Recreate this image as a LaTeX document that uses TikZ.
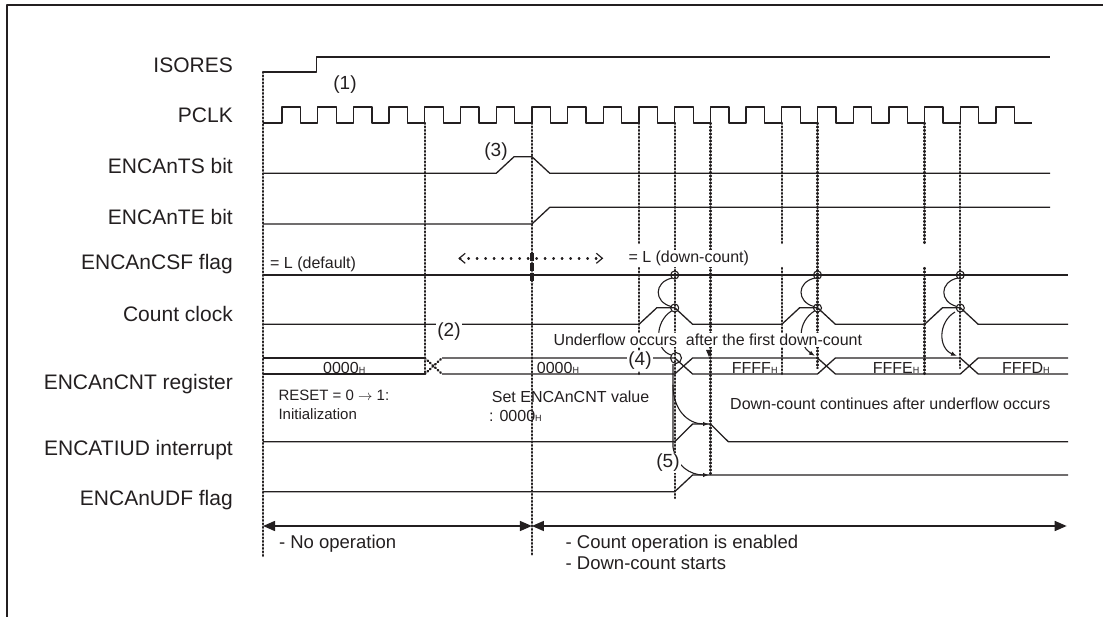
\documentclass[tikz,border=0pt]{standalone}
\usepackage{fontspec}
\setmainfont{Liberation Sans}
\usetikzlibrary{arrows.meta}
\definecolor{ink}{RGB}{35,31,32}
\newcommand{\subH}{{\fontsize{9}{9}\selectfont H}}
\begin{document}
\begin{tikzpicture}[x=1pt,y=-1pt,line join=round,
  sig/.style={draw=ink,line width=1.3pt},
  thin/.style={draw=ink,line width=1.1pt},
  vdot/.style={draw=ink,line width=2.3pt,dash pattern=on 0.9pt off 2.6pt,line cap=round},
  sdot/.style={draw=ink,line width=2.5pt,dash pattern=on 0.5pt off 8pt,line cap=round},
  lbl/.style={anchor=base east,inner sep=0pt,font=\fontsize{21}{25}\selectfont,text=ink},
  note/.style={anchor=base west,inner sep=0pt,font=\fontsize{16}{19}\selectfont,text=ink},
  smallnote/.style={anchor=base west,inner sep=0pt,font=\fontsize{15}{18}\selectfont,text=ink},
  bignote/.style={anchor=base west,inner sep=0pt,font=\fontsize{18.5}{22}\selectfont,text=ink},
  num/.style={inner sep=1pt,font=\fontsize{19}{22}\selectfont,text=ink},
  tip/.style={-{Latex[length=6pt,width=4.5pt]}},
  ring/.style={draw=ink,line width=1.1pt}]
\useasboundingbox (0,0) rectangle (1103,617);
% frame
\draw[ink,line width=2.2pt] (1103,5) -- (7,5) -- (7,617);
% labels
\node[lbl] (lisores) at (233,72.3) {ISORES};
\node[lbl] (lpclk) at (233,122.5) {PCLK};
\node[lbl] (lts) at (233,173.5) {ENCAnTS bit};
\node[lbl] (lte) at (233,225) {ENCAnTE bit};
\node[lbl] (lcsf) at (233,270) {ENCAnCSF flag};
\node[lbl] (lcc) at (233,321.7) {Count clock};
\node[lbl] (lcnt) at (233,390) {ENCAnCNT register};
\node[lbl] (liud) at (233,455) {ENCATIUD interrupt};
\node[lbl] (ludf) at (233,505) {ENCAnUDF flag};
% dotted reference lines
\draw[vdot] (263,72) -- (263,558);
\draw[vdot] (424.8,123) -- (424.8,374);
\draw[vdot] (531.9,123) -- (531.9,556);
\foreach \x in {639.0,781.8,924.6} {
  \draw[vdot] (\x,123) -- (\x,243);
  \draw[vdot] (\x,268) -- (\x,375);
}
\draw[vdot] (674.7,123) -- (674.7,498);
\draw[vdot] (710.4,123) -- (710.4,475);
\draw[vdot] (817.5,123) -- (817.5,368);
\draw[vdot] (960.3,123) -- (960.3,368);
\draw[ink,line width=4.5pt,dash pattern=on 8pt off 2pt] (531.9,253) -- (531.9,283);
% signals
\draw[sig] (263,72) -- (316.7,72) -- (316.7,57) -- (1050,57);
\draw[sig] (263,123) \foreach \k in {0,...,20} { -- ({282+35.7*\k},123) -- ({282+35.7*\k},107) -- ({300.5+35.7*\k},107) -- ({300.5+35.7*\k},123) } -- (1031.7,123);
\draw[sig] (263,173.3) -- (496.2,173.3) -- (514.1,156.7) -- (531.9,156.7) -- (549.8,173.3) -- (1050,173.3);
\draw[sig] (263,224) -- (531.9,224) -- (549.8,207.3) -- (1050,207.3);
\draw[sig] (263,275) -- (1068,275);
\draw[sig] (263,324.3) -- (639,324.3) -- (656.9,307.7) -- (674.7,307.7) -- (692.6,324.3)
  -- (781.8,324.3) -- (799.7,307.7) -- (817.5,307.7) -- (835.4,324.3)
  -- (924.6,324.3) -- (942.5,307.7) -- (960.3,307.7) -- (978.2,324.3) -- (1068,324.3);
% bus
\draw[sig] (263,358) -- (424.8,358);
\draw[sig] (263,374) -- (424.8,374);
\draw[vdot] (424.8,358) -- (442,374);
\draw[vdot] (424.8,374) -- (442,358);
\draw[sig] (442,358) -- (674.7,358) -- (692.6,374) -- (817.5,374) -- (835.4,358) -- (960.3,358) -- (978.2,374) -- (1068,374);
\draw[sig] (442,374) -- (674.7,374) -- (692.6,358) -- (817.5,358) -- (835.4,374) -- (960.3,374) -- (978.2,358) -- (1068,358);
% interrupt and flag
\draw[sig] (263,441.7) -- (674.7,441.7) -- (692.6,424) -- (710.4,424) -- (728.3,441.7) -- (1068,441.7);
\draw[sig] (263,491.7) -- (674.7,491.7) -- (692.6,475) -- (1068,475);
% circles and arcs
\foreach \x in {674.7,817.5,960.3} {
  \draw[ring] (\x,275) circle (4pt);
  \draw[ring] (\x,308) circle (4pt);
  \draw[thin] (\x-2.5,278) .. controls (\x-21,282) and (\x-21,302) .. (\x-3.5,306.5);
}
\draw[ring] (676,358) circle (5.5pt);
\draw[thin] (671.5,311) .. controls (654,322) and (655,350) .. (671,355);
\draw[thin,tip] (814.5,311) .. controls (797,322) and (798,345) .. (815,356);
\draw[thin,tip] (955,312) .. controls (938,322) and (938,348) .. (957,356);
\draw[thin,tip] (673,364) -- (673,385) .. controls (673,410) and (688,424) .. (709,424);
\draw[thin,tip] (673,385) -- (673,447) .. controls (676,466) and (690,475) .. (709,475);
\fill[ink] (706,350) -- (712,350) -- (709,357) -- cycle;
% dotted double arrow
\draw[sdot,{Straight Barb[length=6pt,width=10pt,line width=1.2pt]}-{Straight Barb[length=6pt,width=10pt,line width=1.2pt]}] (458.3,258.3) -- (603.3,258.3);
% bottom arrows
\draw[ink,line width=1.5pt,{Triangle[length=12pt,width=10pt]}-{Triangle[length=12pt,width=10pt]}] (263,526) -- (531.9,526);
\draw[ink,line width=1.5pt,{Triangle[length=12pt,width=10pt]}-{Triangle[length=12pt,width=10pt]}] (531.9,526) -- (1066.7,526);
% texts
\node[note] (tdef) at (270,268.5) {= L (default)};
\node[note,fill=white,inner sep=1pt] (tdown) at (627.3,263) {= L (down-count)};
\node[note,fill=white,inner sep=1pt] (tunder) at (552.3,345.5) {Underflow occurs\ \ after the first down-count};
\node[smallnote] (treset) at (278.3,401) {RESET = 0 \ensuremath{\rightarrow} 1:};
\node[smallnote] (tinit) at (278.3,420) {Initialization};
\node[note] (tset) at (491.7,402.5) {Set ENCAnCNT value};
\node[note] (tset2) at (489,421) {: 0000\subH};
\node[note] (tcont) at (730,409.5) {Down-count continues after underflow occurs};
\node[bignote] (tnoop) at (278.8,548) {- No operation};
\node[bignote] (tcnt1) at (565.5,548) {- Count operation is enabled};
\node[bignote] (tcnt2) at (565.5,569) {- Down-count starts};
\node[note] (v1) at (323,373.5) {0000\subH};
\node[note] (v2) at (536.7,373.5) {0000\subH};
\node[note] (v3) at (731.7,373.5) {FFFF\subH};
\node[note] (v4) at (872.7,373.5) {FFFE\subH};
\node[note] (v5) at (1002,373.5) {FFFD\subH};
\node[num] (n1) at (345,85) {(1)};
\node[num,fill=white] (n2) at (449,332) {(2)};
\node[num] (n3) at (496,151.7) {(3)};
\node[num,fill=white] (n4) at (640,361) {(4)};
\node[num,fill=white] (n5) at (668,463) {(5)};
\end{tikzpicture}
\end{document}
